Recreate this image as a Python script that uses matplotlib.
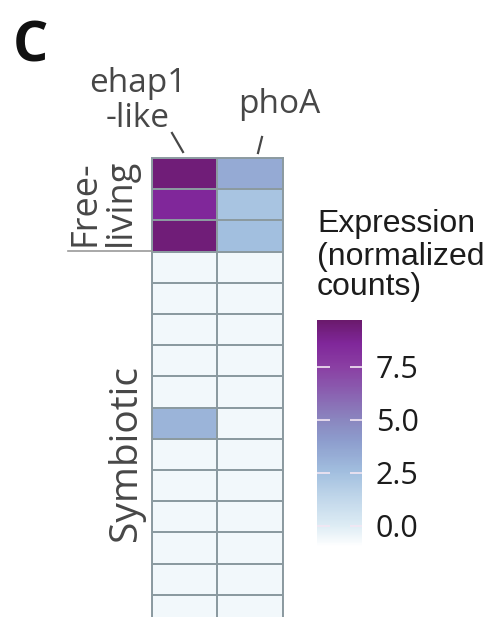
import numpy as np
import matplotlib
matplotlib.use('Agg')
import matplotlib.pyplot as plt
from matplotlib.colors import LinearSegmentedColormap, Normalize

# 数据
genes = ['ehap1\n-like', 'phoA']
groups = ['Free-\nliving', 'Symbiotic']
n_free = 3
n_sym = 12
ehap1 = [9.4, 8.6, 9.4, -0.6, -0.6, -0.6, -0.6, -0.6, 3.0, -0.6, -0.6, -0.6, -0.6, -0.6, -0.6]
phoA = [3.4, 2.3, 2.5, -0.6, -0.6, -0.6, -0.6, -0.6, -0.6, -0.6, -0.6, -0.6, -0.6, -0.6, -0.6]
cbar_ticks = [0.0, 2.5, 5.0, 7.5]
cbar_title = 'Expression\n(normalized\ncounts)'
vmin, vmax = -1.0, 9.7

values = np.array([ehap1, phoA]).T

# 颜色映射：白 -> 浅蓝 -> 紫
nodes = [(-1.0, '#ffffff'), (0.0, '#ddecf4'), (1.5, '#bcd3e8'), (2.5, '#a2bfdf'),
         (4.0, '#8d9dcd'), (5.0, '#8a86bf'), (6.5, '#8a5aae'), (7.5, '#8a3fa3'),
         (8.6, '#80279a'), (9.7, '#6a1a6c')]
cmap = LinearSegmentedColormap.from_list(
    'expr', [((v - vmin) / (vmax - vmin), c) for v, c in nodes])
norm = Normalize(vmin=vmin, vmax=vmax)

W, H = 485, 617
fig = plt.figure(figsize=(W / 100, H / 100), dpi=100)

def fx(px):
    return px / W

def fy(py):
    return 1 - py / H

# 热图
row_h = 31.2
top, left, right = 158, 152, 283
n_rows = len(ehap1)
bottom = top + row_h * n_rows
ax = fig.add_axes([fx(left), fy(bottom), fx(right - left), (bottom - top) / H])
ax.pcolormesh(values, cmap=cmap, norm=norm, edgecolors='#8b9aa0', linewidth=1.4)
ax.set_xlim(0, 2)
ax.set_ylim(n_rows, 0)
ax.set_xticks([])
ax.set_yticks([])
for s in ax.spines.values():
    s.set_color('#8b9aa0')
    s.set_linewidth(1.4)

grey = '#474747'
# 列标签（逐行放置）
for line, base in zip(genes[0].split('\n'), [92, 127]):
    fig.text(fx(138), fy(base), line, ha='center', va='baseline', fontsize=24,
             family='Open Sans', color=grey)
fig.text(fx(279), fy(113), genes[1], ha='center', va='baseline', fontsize=24,
         family='Open Sans', color=grey)
fig.add_artist(plt.Line2D([fx(172), fx(183)], [fy(133), fy(152)], color=grey, lw=1.6))
fig.add_artist(plt.Line2D([fx(262), fx(258)], [fy(137), fy(153)], color=grey, lw=1.6))

# 行分组标签
for line, base in zip(groups[0].split('\n'), [95, 130]):
    fig.text(fx(base), fy(246), line, rotation=90, rotation_mode='anchor',
             ha='left', va='baseline', fontsize=26, family='Open Sans', color=grey)
fig.add_artist(plt.Line2D([fx(68), fx(left)], [fy(251), fy(251)], color='#9a9a9a', lw=1.2))
fig.text(fx(136), fy(453), groups[1], rotation=90, rotation_mode='anchor',
         ha='center', va='baseline', fontsize=28, family='Open Sans', color=grey)

# 面板字母
fig.text(fx(13), fy(62), 'C', fontsize=40, fontweight='bold', family='Open Sans',
         color='#111111', va='baseline')

# 颜色条
cax = fig.add_axes([fx(317), fy(547), fx(362 - 317), (547 - 320) / H])
sm = plt.cm.ScalarMappable(norm=norm, cmap=cmap)
cbar = fig.colorbar(sm, cax=cax, ticks=cbar_ticks)
cbar.outline.set_visible(False)
cbar.ax.set_yticklabels([f'{t:.1f}' for t in cbar_ticks])
cbar.ax.tick_params(direction='in', length=9, width=1.2, color='#f3e6f3',
                    left=True, right=True, labelsize=22, pad=10,
                    labelcolor='#1c1c1c')
for lab in cbar.ax.get_yticklabels():
    lab.set_family('Open Sans')

for line, base in zip(cbar_title.split('\n'), [232, 265, 295]):
    fig.text(fx(317), fy(base), line, ha='left', va='baseline', fontsize=23,
             family='Liberation Sans', color='#1c1c1c')

plt.savefig('out.png', dpi=100)
